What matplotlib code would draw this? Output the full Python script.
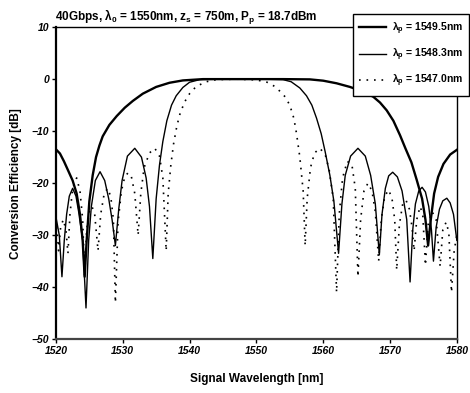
import matplotlib
matplotlib.use("Agg")
import matplotlib.pyplot as plt

plt.rcParams["font.family"] = ["Liberation Sans", "DejaVu Sans"]
plt.rcParams["font.weight"] = "bold"
plt.rcParams["mathtext.fontset"] = "custom"
plt.rcParams["mathtext.rm"] = "Liberation Sans:bold"
plt.rcParams["mathtext.it"] = "Liberation Sans:bold"

# lambda_p = 1549.5 nm (thick)
wl_a = [1520, 1520.6, 1521.2, 1521.8, 1522.5, 1523.1, 1523.6, 1524.0, 1524.3, 1524.6,
        1525.0, 1525.5, 1526.0, 1526.5, 1527, 1528, 1529.1, 1530.3, 1531.5, 1533,
        1535, 1537, 1539, 1542, 1546, 1550, 1554, 1558, 1560, 1562,
        1564, 1566, 1567.5, 1568.5, 1569.5, 1570.5, 1571.5, 1572.3, 1573.2, 1574,
        1574.8, 1575.3, 1575.7, 1576.1, 1576.6, 1577.2, 1578, 1579, 1580]
ce_a = [-13.5, -14.3, -15.8, -17.5, -19.5, -22, -26, -31, -38, -31,
        -23.5, -18.5, -15, -12.8, -11, -8.8, -7.1, -5.5, -4.2, -2.8,
        -1.5, -0.7, -0.25, 0, 0, 0, 0, -0.05, -0.3, -0.8,
        -1.5, -2.4, -3.4, -4.5, -6, -8, -10.8, -13.3, -16, -19.4,
        -23, -27, -32, -27, -22, -18.8, -16.3, -14.5, -13.6]

# lambda_p = 1548.3 nm (thin)
wl_b = [1520, 1520.5, 1520.9, 1521.25, 1521.6, 1522.0, 1522.5, 1523.0, 1523.4, 1524.0,
        1524.5, 1524.9, 1525.3, 1525.9, 1526.6, 1527.3, 1527.9, 1528.4, 1528.9, 1529.4,
        1529.9, 1530.7, 1531.8, 1532.8, 1533.5, 1534.0, 1534.5, 1535.0, 1535.5, 1536.0,
        1536.6, 1537.3, 1538, 1539, 1540, 1541.5, 1545, 1551, 1554, 1555.2,
        1556.5, 1557.5, 1558.3, 1559, 1559.7, 1560.3, 1561, 1561.6, 1562.3, 1562.8,
        1563.3, 1564.1, 1565.2, 1566.3, 1567.1, 1567.8, 1568.4, 1568.8, 1569.3, 1569.8,
        1570.4, 1571.1, 1571.8, 1572.5, 1573, 1573.4, 1573.8, 1574.3, 1574.8, 1575.3,
        1575.8, 1576.2, 1576.5, 1576.9, 1577.4, 1577.9, 1578.5, 1579.0, 1579.5, 1580]
ce_b = [-26.5, -30, -38, -31, -26, -22.5, -21, -22.5, -25.5, -31,
        -44, -31, -24.5, -19.5, -17.8, -19.5, -23, -27, -32, -25,
        -19.5, -14.8, -13.3, -15, -19, -24.5, -34.5, -23, -16.5, -12,
        -8, -5, -3.2, -1.6, -0.6, -0.1, 0, 0, -0.1, -0.5,
        -1.7, -3.2, -5, -7.5, -10.5, -14, -18.5, -23.5, -33.5, -24,
        -18.5, -14.8, -13.3, -14.8, -18.5, -24, -33.8, -26, -21, -18.6,
        -17.9, -18.8, -21.5, -27, -39, -29, -24, -21.5, -20.8, -21.7,
        -24.5, -29, -35, -28.5, -25, -23.4, -22.9, -23.8, -26, -31]

# lambda_p = 1547.0 nm (dotted)
wl_c = [1520, 1520.2, 1520.4, 1520.7, 1521.1, 1521.5, 1521.8, 1522.1, 1522.5, 1523.1,
        1523.6, 1524.0, 1524.3, 1524.6, 1525.0, 1525.4, 1525.8, 1526.3, 1526.7, 1527.2,
        1527.7, 1528.2, 1528.6, 1528.9, 1529.3, 1529.8, 1530.3, 1530.8, 1531.3, 1531.8,
        1532.3, 1532.7, 1533.2, 1534.0, 1534.8, 1535.5, 1536.0, 1536.5, 1536.8, 1537.2,
        1537.6, 1538.1, 1538.6, 1539.3, 1540, 1541, 1542.5, 1544, 1547, 1550,
        1551.6, 1552.6, 1553.5, 1554.3, 1555, 1555.6, 1556, 1556.5, 1557, 1557.3,
        1557.6, 1558.1, 1558.7, 1559.5, 1560.3, 1560.9, 1561.5, 1562, 1562.4, 1562.9,
        1563.6, 1564.3, 1564.8, 1565.2, 1565.6, 1566.1, 1566.7, 1567.3, 1567.8, 1568.3,
        1568.7, 1569.2, 1569.8, 1570.3, 1570.7, 1571, 1571.4, 1571.9, 1572.4, 1572.9,
        1573.3, 1573.6, 1574.0, 1574.5, 1574.9, 1575.3, 1575.7, 1576.3, 1576.9, 1577.5,
        1577.9, 1578.4, 1578.8, 1579.2, 1579.6, 1580]
ce_c = [-27, -29.5, -33, -28.5, -27, -29, -33.5, -26, -21, -19,
        -21.5, -27, -38, -29, -25.5, -24.5, -26, -33, -26, -22.2,
        -21, -22.5, -27, -43, -27.5, -21.5, -18.8, -18, -18.8, -22,
        -30, -22, -17, -14.2, -13.3, -14.8, -19, -33, -22, -16.5,
        -12.5, -9, -6.5, -4.3, -2.8, -1.4, -0.5, -0.1, 0, -0.15,
        -0.6, -1.3, -2.3, -3.4, -5, -7.5, -10.4, -15, -21.5, -32,
        -23, -17, -14.2, -13.3, -14.5, -17.5, -23, -41, -26, -19,
        -15.8, -16.5, -21, -38, -27, -21.5, -20, -21.5, -25.5, -35,
        -27, -22.5, -21.3, -23, -27, -36.7, -28, -24, -23.3, -25,
        -28.5, -33, -27, -24.5, -26, -35.8, -28, -25.5, -27, -36,
        -29, -27.5, -29.5, -41, -33, -30]

labels = ["$\\lambda_p$ = 1549.5nm", "$\\lambda_p$ = 1548.3nm", "$\\lambda_p$ = 1547.0nm"]
xticks = [1520, 1530, 1540, 1550, 1560, 1570, 1580]
yticks = [10, 0, -10, -20, -30, -40, -50]

fig = plt.figure(figsize=(4.7, 3.93), dpi=100)
ax = fig.add_axes([0.119, 0.137, 0.853, 0.794])

ax.plot(wl_a, ce_a, color="black", lw=1.7, label=labels[0])
ax.plot(wl_b, ce_b, color="black", lw=1.0, label=labels[1])
ax.plot(wl_c, ce_c, color="black", lw=1.2, linestyle=(0, (1, 3.5)), label=labels[2])

ax.set_xlim(1520, 1580)
ax.set_ylim(-50, 10)
ax.set_xticks(xticks)
ax.set_yticks(yticks)
ax.tick_params(labelsize=7.5, length=3, width=1, pad=2)
for lab in ax.get_xticklabels() + ax.get_yticklabels():
    lab.set_fontweight("bold")
    lab.set_fontstyle("italic")
for side in ["left", "bottom"]:
    ax.spines[side].set_linewidth(1.6)
ax.spines["bottom"].set_color("#444444")
ax.spines["top"].set_linewidth(1.0)
ax.spines["right"].set_linewidth(1.0)

ax.set_xlabel("Signal Wavelength [nm]", fontsize=8.5, fontweight="bold", labelpad=12)
ax.set_ylabel("Conversion Efficiency [dB]", fontsize=8.5, fontweight="bold", labelpad=7)
ax.set_title("40Gbps, $\\lambda_0$ = 1550nm, z$_s$ = 750m, P$_p$ = 18.7dBm",
             fontsize=8.5, fontweight="bold", loc="left", pad=2, x=-0.003)

leg = ax.legend(loc="upper left", bbox_to_anchor=(0.751, 0.964), bbox_transform=fig.transFigure,
                fancybox=False, framealpha=1, edgecolor="black", fontsize=7.5,
                handlelength=2.6, labelspacing=0.95, borderpad=0.6, handletextpad=0.5,
                borderaxespad=0)
leg.get_frame().set_linewidth(1.0)
leg.set_zorder(5)

fig.savefig("out.png", dpi=100)
